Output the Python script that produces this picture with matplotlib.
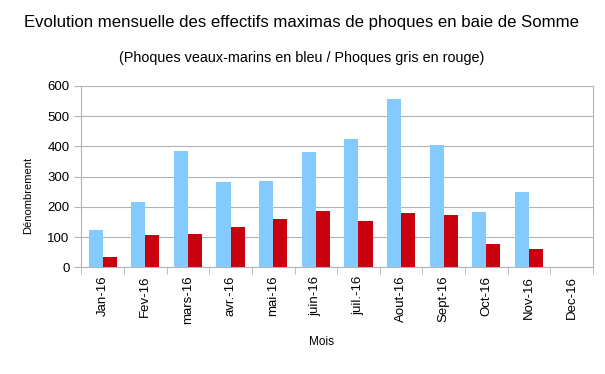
import numpy as np
import matplotlib
matplotlib.use('Agg')
import matplotlib.pyplot as plt

plt.rcParams.update({
    'font.family': ['Liberation Sans', 'DejaVu Sans'],
})

mois = ['Jan-16', 'Fev-16', 'mars-16', 'avr.-16', 'mai-16', 'juin-16',
        'juil.-16', 'Aout-16', 'Sept-16', 'Oct-16', 'Nov-16', 'Dec-16']
# phoques veaux-marins (bleu)
veaux_marins = [122, 215, 385, 283, 285, 380, 425, 556, 406, 183, 248, 0]
# phoques gris (rouge)
gris = [33, 108, 110, 132, 161, 185, 153, 180, 172, 76, 61, 0]

fig = plt.figure(figsize=(6.05, 3.74), dpi=100)
ax = fig.add_axes([81.3 / 605, 1 - 267.3 / 374, (593 - 81.3) / 605, (267.3 - 86) / 374])

x = np.arange(len(mois))
w = 0.33
ax.bar(x - w / 2, veaux_marins, w, color='#83caff', zorder=3)
ax.bar(x + w / 2, gris, w, color='#c9000e', zorder=3)

ax.set_xlim(-0.5, len(mois) - 0.5)
ax.set_ylim(0, 600)
ax.set_yticks(range(0, 601, 100))
ax.yaxis.grid(True, color='#b3b3b3', lw=0.8, zorder=0)

ax.set_xticks(x)
ax.set_xticklabels(mois, rotation=90, fontsize=9.5)
ax.set_xticks(np.arange(-0.5, len(mois)), minor=True)
ax.tick_params(axis='x', which='major', length=0, pad=6)
ax.tick_params(axis='x', which='minor', length=5, color='#b3b3b3')
ax.tick_params(axis='y', length=5, color='#b3b3b3', labelsize=9.5)

for s in ['left', 'bottom', 'right', 'top']:
    ax.spines[s].set_color('#b3b3b3')
ax.spines['top'].set_visible(False)

fig.text(28 / 605, 1 - 195 / 374, 'Dénombrement', rotation=90,
         ha='center', va='center', fontsize=8)
fig.text(322 / 605, 1 - 342 / 374, 'Mois', ha='center', va='center', fontsize=8.5)

fig.text(301.5 / 605, 1 - 23 / 374, 'Evolution mensuelle des effectifs maximas de phoques en baie de Somme',
         ha='center', va='center', fontsize=12.1)
fig.text(302 / 605, 1 - 58 / 374, '(Phoques veaux-marins en bleu / Phoques gris en rouge)',
         ha='center', va='center', fontsize=10.4)

fig.savefig('out.png', dpi=100)
